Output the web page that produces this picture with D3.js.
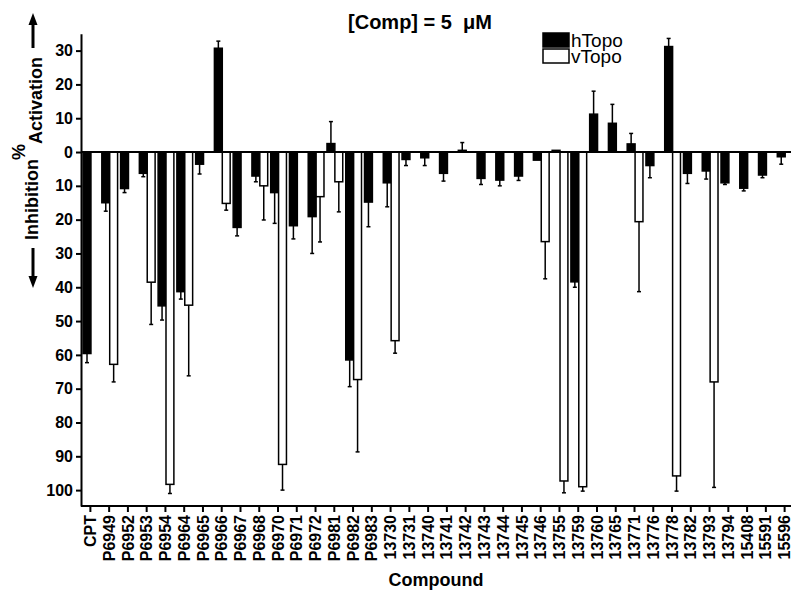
<!DOCTYPE html>
<html>
<head>
<meta charset="utf-8">
<script src="https://cdn.jsdelivr.net/npm/d3@7"></script>
<style>
  body { margin: 0; background: #fff; }
  svg { display: block; font-family: "Liberation Sans", Arial, sans-serif; }
  .axis text { font-family: "Liberation Sans", Arial, sans-serif; font-weight: bold; font-size: 16px; fill: #000; }
  .axis path, .axis line { stroke: #000; stroke-width: 2px; }
</style>
</head>
<body>
<svg id="chart" width="800" height="597"></svg>
<script>
// Compounds on the x axis
const compounds = ['CPT', 'P6949', 'P6952', 'P6953', 'P6954', 'P6964', 'P6965', 'P6966',
  'P6967', 'P6968', 'P6970', 'P6971', 'P6972', 'P6981', 'P6982', 'P6983', '13730', '13731',
  '13740', '13741', '13742', '13743', '13744', '13745', '13746', '13755', '13759', '13760',
  '13765', '13771', '13776', '13778', '13782', '13793', '13794', '15408', '15591', '15596'];

// % activation (positive) / inhibition (negative)
const hTopo = [-59.6, -15, -10.8, -6.3, -45.5, -41.3, -3.6, 30.7, -22.3, -7.1, -12, -21.8,
  -19.1, 2.5, -61.5, -14.8, -9.1, -2.2, -1.7, -6.3, 0.5, -7.8, -8.3, -7.1, -2.4, 0.5,
  -38.4, 11.2, 8.5, 2.4, -4, 31.2, -6.3, -5.6, -9.1, -10.7, -6.8, -1.4];
const hTopoErr = [2.7, 2.5, 1.2, 1.0, 4.2, 2.2, 2.9, 2.1, 2.5, 1.7, 9.1, 3.9, 10.9, 6.5,
  7.9, 7.3, 7.1, 1.8, 2.3, 2.3, 2.3, 1.8, 1.7, 1.3, 0, 0, 1.6, 6.8, 5.6, 3.1, 3.6, 2.4,
  3.0, 2.4, 0.5, 0.8, 0.8, 2.2];
const vTopo = [null, -62.8, null, -38.5, -98.3, -45.3, null, -15.2, null, -10, -92.4, null,
  -13.2, -8.8, -67.3, null, -55.8, null, null, null, null, null, null, null, -26.5, -97.3,
  -99, null, null, -20.6, null, -95.8, null, -68, null, null, null, null];
const vTopoErr = [0, 5.2, 0, 12.5, 2.7, 20.9, 0, 2, 0, 10.1, 7.6, 0, 13.4, 8.9, 21.4, 0,
  3.7, 0, 0, 0, 0, 0, 0, 0, 11, 3.5, 1.3, 0, 0, 20.7, 0, 4.5, 0, 31.2, 0, 0, 0, 0];

const yTicks = [30, 20, 10, 0, -10, -20, -30, -40, -50, -60, -70, -80, -90, -100];
const seriesNames = ['hTopo', 'vTopo'];
const seriesFill = { hTopo: '#000', vTopo: '#fff' };

const svg = d3.select('#chart');

const x = d3.scaleBand().domain(compounds).range([81, 794]);
const xSub = d3.scaleBand().domain(seriesNames)
  .range([x.bandwidth() * 0.11, x.bandwidth() * 0.95]);
const y = d3.scaleLinear().domain([-104.7, 35]).range([506, 33.7]);

// flatten into bar records
const bars = [];
compounds.forEach((c, i) => {
  bars.push({ c, s: 'hTopo', v: hTopo[i], e: hTopoErr[i] });
  if (vTopo[i] !== null) bars.push({ c, s: 'vTopo', v: vTopo[i], e: vTopoErr[i] });
});

// bars
svg.append('g')
  .selectAll('rect')
  .data(bars)
  .join('rect')
  .attr('x', (d) => x(d.c) + xSub(d.s))
  .attr('width', xSub.bandwidth())
  .attr('y', (d) => y(Math.max(0, d.v)))
  .attr('height', (d) => Math.abs(y(d.v) - y(0)))
  .attr('fill', (d) => seriesFill[d.s])
  .attr('stroke', '#000')
  .attr('stroke-width', 1.5);

// error bars (one sided, away from zero)
const errs = svg.append('g')
  .attr('stroke', '#000')
  .attr('stroke-width', 1.5)
  .selectAll('g')
  .data(bars.filter((d) => d.e > 0))
  .join('g')
  .attr('transform', (d) => `translate(${x(d.c) + xSub(d.s) + xSub.bandwidth() / 2},0)`);

errs.append('line')
  .attr('y1', (d) => y(d.v))
  .attr('y2', (d) => y(d.v + Math.sign(d.v) * d.e));
errs.append('line')
  .attr('x1', -2)
  .attr('x2', 2)
  .attr('y1', (d) => y(d.v + Math.sign(d.v) * d.e))
  .attr('y2', (d) => y(d.v + Math.sign(d.v) * d.e));

// zero line
svg.append('line')
  .attr('x1', 81)
  .attr('x2', 791)
  .attr('y1', y(0))
  .attr('y2', y(0))
  .attr('stroke', '#000')
  .attr('stroke-width', 2);

// y axis
svg.append('g')
  .attr('class', 'axis')
  .attr('transform', 'translate(81,0)')
  .call(d3.axisLeft(y).tickValues(yTicks).tickFormat((d) => Math.abs(d))
    .tickSize(5).tickSizeOuter(0).tickPadding(3));

// x axis
const xAxis = svg.append('g')
  .attr('class', 'axis')
  .attr('transform', 'translate(0,506)')
  .call(d3.axisBottom(x).tickSize(6).tickSizeOuter(0));

// axis line stops a little short of the last band
xAxis.select('.domain').attr('d', 'M81,0H791');

xAxis.selectAll('text')
  .attr('transform', 'rotate(-90)')
  .attr('x', -9)
  .attr('y', 0)
  .attr('dy', '0.35em')
  .style('text-anchor', 'end');

// title
svg.append('text')
  .attr('x', 420)
  .attr('y', 29)
  .attr('text-anchor', 'middle')
  .style('font-weight', 'bold')
  .style('font-size', '20px')
  .style('white-space', 'pre')
  .text('[Comp] = 5  \u03bcM');

// x axis title
svg.append('text')
  .attr('x', 436)
  .attr('y', 586)
  .attr('text-anchor', 'middle')
  .style('font-weight', 'bold')
  .style('font-size', '18px')
  .text('Compound');

// y axis title, rotated
const yLab = svg.append('g')
  .attr('transform', 'translate(0,152) rotate(-90)')
  .style('font-weight', 'bold')
  .style('font-size', '18px');

yLab.append('text')
  .attr('x', -7)
  .attr('y', 38)
  .attr('text-anchor', 'end')
  .text('Inhibition');
yLab.append('text')
  .attr('x', 0)
  .attr('y', 25)
  .attr('text-anchor', 'middle')
  .text('%');
yLab.append('text')
  .attr('x', 8)
  .attr('y', 42)
  .text('Activation');

// arrows on the y title
const arrow = (g, from, to) => {
  const dir = Math.sign(to - from);
  g.append('line')
    .attr('x1', from).attr('x2', to - dir * 11)
    .attr('y1', 33).attr('y2', 33)
    .attr('stroke', '#000')
    .attr('stroke-width', 3);
  g.append('path')
    .attr('d', `M${to},33 L${to - dir * 12},28.5 L${to - dir * 12},37.5 Z`)
    .attr('fill', '#000');
};
arrow(yLab, -96, -136);
arrow(yLab, 104, 139);

// legend
const legend = svg.append('g')
  .attr('transform', 'translate(543,33)');

legend.selectAll('rect')
  .data(seriesNames)
  .join('rect')
  .attr('x', 0)
  .attr('y', (d, i) => i * 16)
  .attr('width', 26)
  .attr('height', 14)
  .attr('fill', (d) => seriesFill[d])
  .attr('stroke', '#000')
  .attr('stroke-width', 1.5);

legend.selectAll('text')
  .data(seriesNames)
  .join('text')
  .attr('x', 28)
  .attr('y', (d, i) => 14 + i * 16)
  .style('font-size', '19px')
  .text((d) => d);
</script>
</body>
</html>
